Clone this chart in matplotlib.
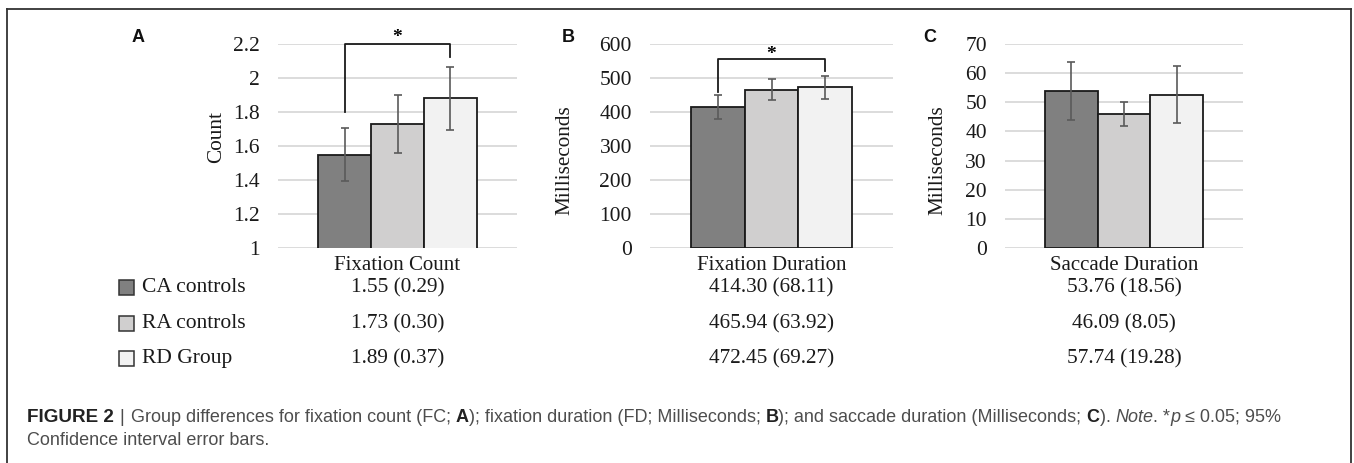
import matplotlib
matplotlib.use("Agg")
import matplotlib.pyplot as plt
from matplotlib.patches import Rectangle
from matplotlib.lines import Line2D

# ---------------- data ----------------
groups = ["CA controls", "RA controls", "RD Group"]
bar_colors = ["#808080", "#d0cfcf", "#f2f2f2"]

panel_letters = ["A", "B", "C"]
measures = ["Fixation Count", "Fixation Duration", "Saccade Duration"]
y_labels = ["Count", "Milliseconds", "Milliseconds"]

fc_means = [1.55, 1.73, 1.88]
fc_ci = [0.155, 0.17, 0.185]
fd_means = [414.30, 465.94, 472.45]
fd_ci = [35.0, 31.0, 34.5]
sd_means = [53.76, 46.09, 52.6]
sd_ci = [9.95, 4.1, 9.7]

fc_ticks = [1, 1.2, 1.4, 1.6, 1.8, 2, 2.2]
fc_ticklabels = ["1", "1.2", "1.4", "1.6", "1.8", "2", "2.2"]
fd_ticks = [0, 100, 200, 300, 400, 500, 600]
sd_ticks = [0, 10, 20, 30, 40, 50, 60, 70]

fc_table = ["1.55 (0.29)", "1.73 (0.30)", "1.89 (0.37)"]
fd_table = ["414.30 (68.11)", "465.94 (63.92)", "472.45 (69.27)"]
sd_table = ["53.76 (18.56)", "46.09 (8.05)", "57.74 (19.28)"]

# significance brackets: (left bar, right bar, left-leg bottom, top, right-leg bottom, star y)
fc_sig = (0, 2, 1.8, 2.2, 2.125, 2.24)
fd_sig = (0, 2, 460, 556, 520, 568)

# ---------------- figure ----------------
W, H = 1354, 463
fig = plt.figure(figsize=(W / 100, H / 100), dpi=100)
SERIF = ["Liberation Serif", "DejaVu Serif"]
SANS = ["Liberation Sans", "DejaVu Sans"]


def fx(x):
    return x / W


def fy(y):
    return 1 - y / H


panels = [
    dict(left=278, right=517, means=fc_means, ci=fc_ci, ticks=fc_ticks,
         ticklabels=fc_ticklabels, ylim=(1, 2.2), sig=fc_sig, table=fc_table,
         ylab_x=217, ylab_y=137, letter_x=132),
    dict(left=650, right=893, means=fd_means, ci=fd_ci, ticks=fd_ticks,
         ticklabels=[str(t) for t in fd_ticks], ylim=(0, 600), sig=fd_sig,
         table=fd_table, ylab_x=565, ylab_y=160, letter_x=562),
    dict(left=1005, right=1243, means=sd_means, ci=sd_ci, ticks=sd_ticks,
         ticklabels=[str(t) for t in sd_ticks], ylim=(0, 70), sig=None,
         table=sd_table, ylab_x=938, ylab_y=160, letter_x=923),
]

top_px, bot_px = 44, 248
row_y = [288, 324, 359]

for i, p in enumerate(panels):
    ax = fig.add_axes([fx(p["left"]), fy(bot_px), (p["right"] - p["left"]) / W,
                       (bot_px - top_px) / H])
    x = list(range(len(groups)))
    ax.bar(x, p["means"], width=1.0, color=bar_colors, edgecolor="#1a1a1a",
           linewidth=1.3, zorder=3, bottom=0)
    ax.errorbar(x, p["means"], yerr=p["ci"], fmt="none", ecolor="#5a5a5a",
                elinewidth=1.2, capsize=3, capthick=1.2, zorder=4)
    ax.set_xlim(-1.255, 3.255)
    ax.set_ylim(*p["ylim"])
    ax.set_yticks(p["ticks"])
    ax.set_yticklabels(p["ticklabels"], fontfamily=SERIF, fontsize=15.5,
                       color="#1a1a1a")
    ax.tick_params(axis="y", length=0, pad=13)
    ax.set_xticks([])
    for s in ax.spines.values():
        s.set_visible(False)
    ax.set_axisbelow(True)
    ax.yaxis.grid(True, color="#d9d9d9", linewidth=1.3, zorder=0)
    ax.set_facecolor("none")

    if p["sig"] is not None:
        l, r, lb, top, rb, sy = p["sig"]
        ax.plot([l, l, r, r], [lb, top, top, rb], color="#1a1a1a",
                linewidth=1.3, clip_on=False, zorder=5)
        ax.text((l + r) / 2, sy, "*", ha="center", va="center",
                fontsize=14, fontweight="bold", family=SERIF, clip_on=False)

    cx = (p["left"] + p["right"]) / 2
    fig.text(fx(cx), fy(265), measures[i], ha="center", va="center",
             fontsize=15, family=SERIF, color="#1a1a1a")
    for j, s in enumerate(p["table"]):
        fig.text(fx(cx), fy(row_y[j]), s, ha="center", va="center",
                 fontsize=15.3, family=SERIF, color="#1a1a1a")
    fig.text(fx(p["ylab_x"]), fy(p["ylab_y"]), y_labels[i], rotation=90,
             ha="center", va="center", fontsize=15.3, family=SERIF,
             color="#1a1a1a")
    fig.text(fx(p["letter_x"]), fy(37), panel_letters[i], ha="left",
             va="center", fontsize=13, fontweight="bold", family=SANS,
             color="#111111")

# legend-like rows
for j, g in enumerate(groups):
    fig.patches.append(Rectangle((fx(119), fy(row_y[j] + 7)), 15 / W, 15 / H,
                                 transform=fig.transFigure,
                                 facecolor=bar_colors[j], edgecolor="#333333",
                                 linewidth=1.1))
    fig.text(fx(142), fy(row_y[j]), g, ha="left", va="center", fontsize=15.5,
             family=SERIF, color="#1a1a1a")

# frame
frame_kw = dict(color="#333333", linewidth=1.3, transform=fig.transFigure)
fig.lines.append(Line2D([fx(7), fx(7)], [fy(463), fy(9)], **frame_kw))
fig.lines.append(Line2D([fx(7), fx(1351)], [fy(9), fy(9)], **frame_kw))
fig.lines.append(Line2D([fx(1351), fx(1351)], [fy(9), fy(463)], **frame_kw))

# caption with mixed styles
renderer = fig.canvas.get_renderer()
cap_size = 13.0
GRAY = "#4d4d4d"
DARK = "#222222"
line1 = [
    ("FIGURE 2", "bold", "normal", DARK, 13.6, 5),
    ("|", "normal", "normal", GRAY, 13.6, 7),
    ("Group differences for fixation count (FC; ", "normal", "normal", GRAY, cap_size, 0),
    ("A", "bold", "normal", DARK, cap_size, 0),
    ("); fixation duration (FD; Milliseconds; ", "normal", "normal", GRAY, cap_size, 0),
    ("B", "bold", "normal", DARK, cap_size, 0),
    ("); and saccade duration (Milliseconds; ", "normal", "normal", GRAY, cap_size, 0),
    ("C", "bold", "normal", DARK, cap_size, 0),
    ("). ", "normal", "normal", GRAY, cap_size, 0),
    ("Note", "normal", "italic", GRAY, cap_size, 0),
    (". *", "normal", "normal", GRAY, cap_size, 0),
    ("p", "normal", "italic", GRAY, cap_size, 0),
    (" \u2264 0.05; 95%", "normal", "normal", GRAY, cap_size, 0),
]
xpos = 27
for txt, wt, st, col, sz, gap in line1:
    t = fig.text(fx(xpos), fy(422), txt, ha="left", va="baseline",
                 fontsize=sz, fontweight=wt, fontstyle=st, family=SANS,
                 color=col)
    xpos += t.get_window_extent(renderer).width + gap
fig.text(fx(27), fy(445), "Confidence interval error bars.", ha="left",
         va="baseline", fontsize=cap_size, family=SANS, color=GRAY)

fig.savefig("out.png", dpi=100)
